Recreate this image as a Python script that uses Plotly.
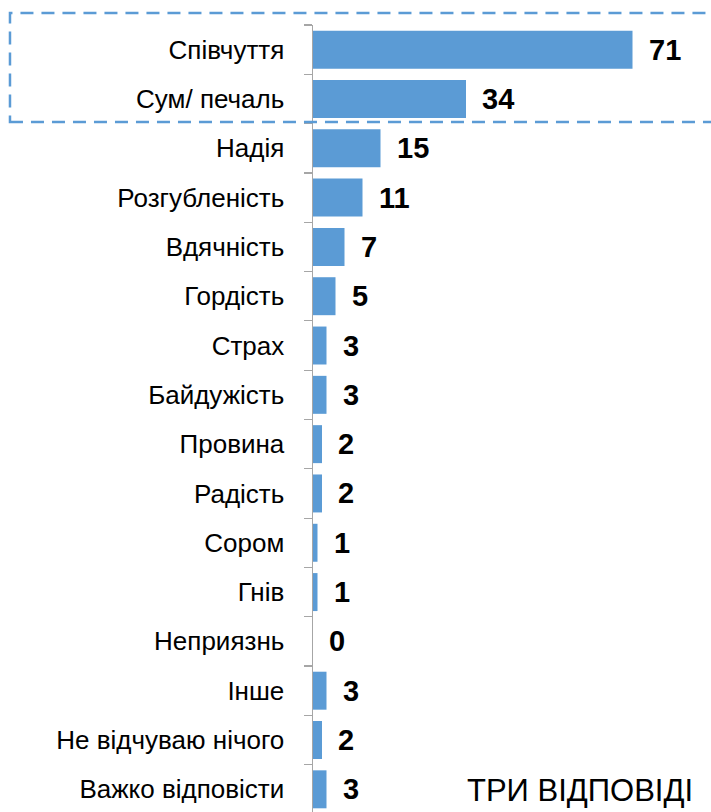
import plotly.graph_objects as go

categories = ["Співчуття", "Сум/ печаль", "Надія", "Розгубленість", "Вдячність", "Гордість",
              "Страх", "Байдужість", "Провина", "Радість", "Сором", "Гнів", "Неприязнь",
              "Інше", "Не відчуваю нічого", "Важко відповісти"]
values = [71, 34, 15, 11, 7, 5, 3, 3, 2, 2, 1, 1, 0, 3, 2, 3]
note = "ТРИ ВІДПОВІДІ"

FONT = "Liberation Sans, Arial, sans-serif"
BLUE = "#5b9bd5"

fig = go.Figure(go.Bar(
    y=categories, x=values, orientation="h",
    marker=dict(color=BLUE, line=dict(width=0)),
    width=0.77, hoverinfo="skip",
))

for c, v in zip(categories, values):
    fig.add_annotation(x=v, y=c, xref="x", yref="y", text=str(v), showarrow=False,
                       xanchor="left", yanchor="middle", xshift=14,
                       font=dict(family=FONT, size=29, color="black", weight="bold"))

fig.add_annotation(x=1, y=0, xref="paper", yref="paper", text=note, showarrow=False,
                   xanchor="right", yanchor="bottom", xshift=-5, yshift=2,
                   font=dict(family=FONT, size=31, color="black"))

fig.add_shape(type="rect", xref="paper", yref="paper",
              x0=-0.783, x1=1.06, y0=0.8767, y1=1.0152,
              line=dict(color=BLUE, width=2.5, dash="13px,8px"), fillcolor="rgba(0,0,0,0)")

fig.update_layout(
    width=711, height=812,
    margin=dict(l=313, r=11, t=25, b=0),
    paper_bgcolor="white", plot_bgcolor="white",
    showlegend=False,
    xaxis=dict(range=[0, 86], visible=False, fixedrange=True),
    yaxis=dict(type="category", range=[15.46, -0.5], showline=True, linecolor="#a6a6a6",
               linewidth=1.5, ticks="outside", tickson="boundaries", ticklen=8,
               tickcolor="#a6a6a6", tickwidth=1.2, ticklabelstandoff=22,
               tickfont=dict(family=FONT, size=26, color="black"), showgrid=False,
               zeroline=False, automargin=False, fixedrange=True),
)

fig.write_html("out.html", config={"displayModeBar": False, "staticPlot": True},
               post_script="document.body.style.margin='0';")
